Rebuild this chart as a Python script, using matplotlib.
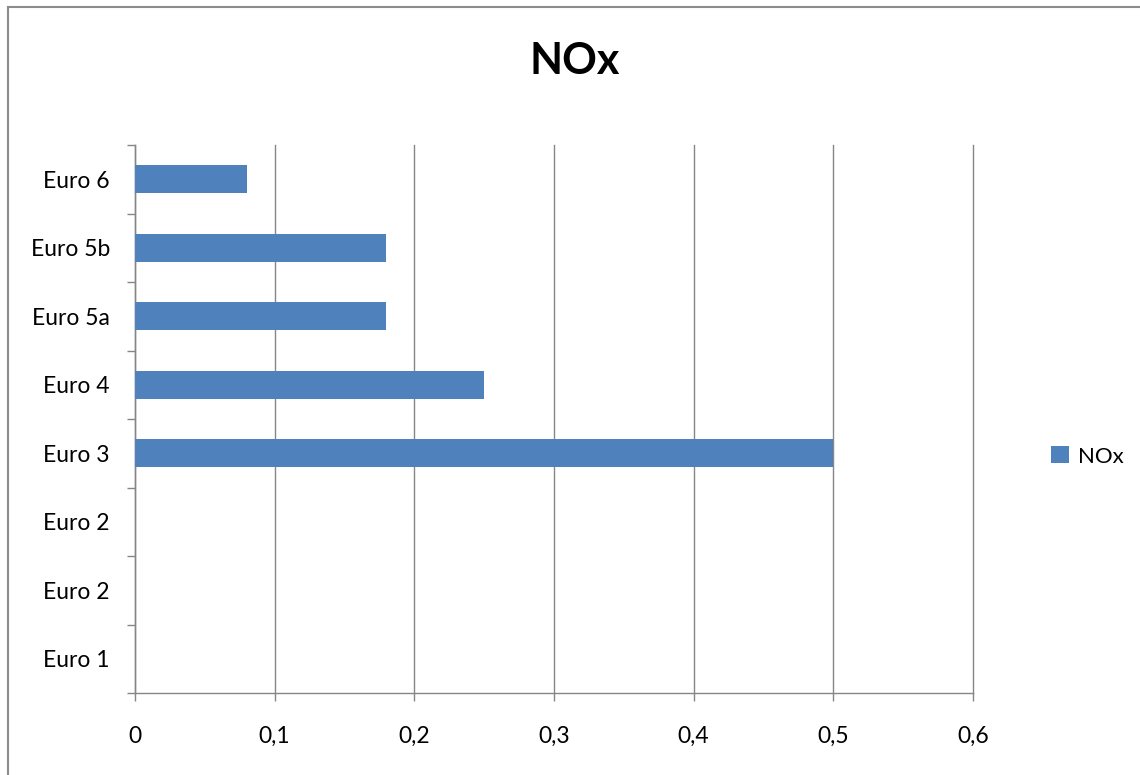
import numpy as np
import matplotlib.pyplot as plt
from matplotlib.lines import Line2D

plt.rcParams['font.family'] = ['Lato', 'DejaVu Sans']

categories = ['Euro 1', 'Euro 2', 'Euro 2', 'Euro 3', 'Euro 4', 'Euro 5a', 'Euro 5b', 'Euro 6']
nox = [np.nan, np.nan, np.nan, 0.5, 0.25, 0.18, 0.18, 0.08]
x_ticks = [0, 0.1, 0.2, 0.3, 0.4, 0.5, 0.6]
x_labels = ['0', '0,1', '0,2', '0,3', '0,4', '0,5', '0,6']

bar_color = '#4f81bd'
grid_color = '#868686'

fig = plt.figure(figsize=(11.4, 7.75), dpi=100)
ax = fig.add_axes([0.1184, 0.1058, 0.7351, 0.7071])

pos = np.arange(len(categories))
ax.barh(pos, nox, height=0.41, color=bar_color, label='NOx', zorder=3)

ax.set_xlim(0, 0.6)
ax.set_ylim(-0.5, len(categories) - 0.5)

ax.set_xticks(x_ticks)
ax.set_xticklabels(x_labels, fontsize=16.5)
ax.set_yticks(pos)
ax.set_yticklabels(categories, fontsize=16.5)
ax.tick_params(axis='y', length=0, pad=18)
ax.set_yticks(np.arange(len(categories) + 1) - 0.5, minor=True)
ax.tick_params(axis='y', which='minor', length=6, color=grid_color, width=1)
ax.tick_params(axis='x', length=6, color=grid_color, width=1, pad=18)

ax.grid(axis='x', color=grid_color, linewidth=1, zorder=0)
for line in ax.get_xgridlines():
    line.set_clip_on(False)
for side in ['top', 'right']:
    ax.spines[side].set_visible(False)
for side in ['left', 'bottom']:
    ax.spines[side].set_color(grid_color)
    ax.spines[side].set_linewidth(1)

fig.text(0.5045, 0.921, 'NOx', ha='center', va='center', fontsize=31, fontweight='bold')

ax.legend(loc='center left', bbox_to_anchor=(0.914, 0.411), bbox_transform=fig.transFigure,
          frameon=False, fontsize=16, handlelength=0.8, handleheight=0.8, handletextpad=0.4,
          borderaxespad=0)

# outer chart frame, visible on the top and left edges
fig.add_artist(Line2D([0.007, 0.007], [0, 0.991], transform=fig.transFigure, color='#8c8c8c', linewidth=1.5))
fig.add_artist(Line2D([0.007, 1.0], [0.991, 0.991], transform=fig.transFigure, color='#8c8c8c', linewidth=1.5))

fig.savefig('out.png', dpi=100)
